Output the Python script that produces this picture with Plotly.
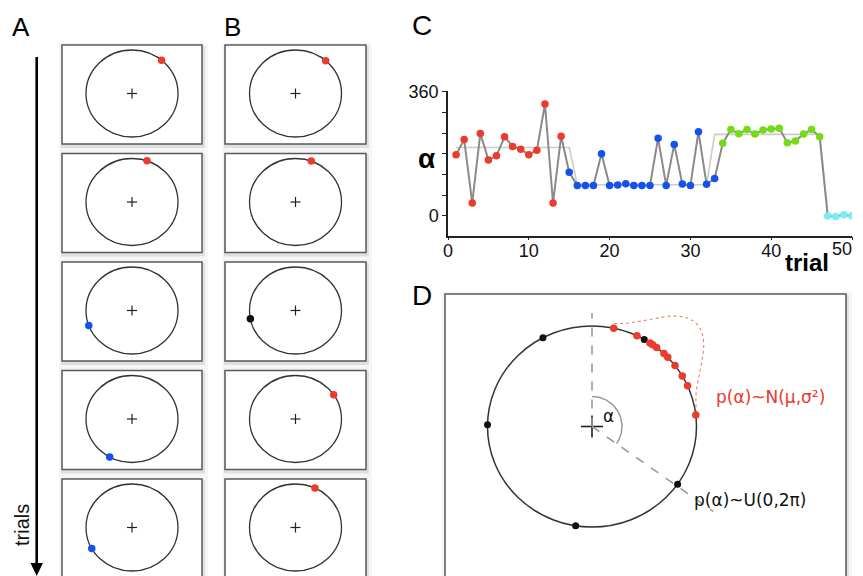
import numpy as np
import plotly.graph_objects as go

W, H = 863, 576
OFF = 8  # page body margin: the figure is drawn 8 px right/down of the window corner

# ---------------- Panel C data ----------------
trials = list(range(1, 51))
alpha_red = [177, 221, 37, 239, 162, 174, 229, 201, 193, 177, 190, 324, 37, 231]
alpha_blue = [126, 88, 88, 88, 180, 88, 89, 93, 88, 88, 88, 225, 88, 207, 92, 88, 244, 91, 108]
alpha_green = [210, 250, 238, 250, 237, 249, 252, 254, 212, 217, 237, 250, 229]
alpha_cyan = [-1, -2, 3, 0]
mean_x = [1, 15, 16, 32, 33, 46, 47, 50]
mean_y = [198, 198, 90, 90, 236, 236, 0, 0]
x_ticks = [0, 10, 20, 30, 40, 50]
x_ticktext = ["0", "10", "20", "30", "40", ""]
x_last_label = "50"
y_ticks = [0, 60, 120, 180, 240, 300, 360]
y_ticktext = ["0", "", "", "", "", "", "360"]

# ---------------- Panels A / B data (angle clockwise from top, degrees) ----------------
angles_A = [40, 19, 250, 209, 241]
colors_A = ["red", "red", "blue", "blue", "blue"]
angles_B = [41, 20, 259, 56, 25]
colors_B = ["red", "red", "black", "red", "red"]

# ---------------- Panel D data ----------------
angles_D_uniform = [332, 271, 189, 125, 30]
angles_D_normal = [12, 25.5, 33.7, 35.5, 38.2, 43.5, 46.5, 52.6, 59.8, 66.1, 83.5]
density_mu, density_sigma, density_amp = 45, 13, 0.41
alpha_angle_D = 125

COL = {"red": "#ec3a2d", "blue": "#1452f0", "green": "#74dc12", "cyan": "#78ecf8", "black": "#111111"}

fig = go.Figure()

# ----- Panel C traces -----
all_alpha = alpha_red + alpha_blue + alpha_green + alpha_cyan
fig.add_trace(go.Scatter(x=mean_x, y=mean_y, mode="lines",
                         line=dict(color="#cccccc", width=1.6), hoverinfo="skip", showlegend=False))
fig.add_trace(go.Scatter(x=trials, y=all_alpha, mode="lines",
                         line=dict(color="#8a8a8a", width=2), hoverinfo="skip", showlegend=False))
start = 1
for vals, c in [(alpha_red, "red"), (alpha_blue, "blue"), (alpha_green, "green"), (alpha_cyan, "cyan")]:
    xs = list(range(start, start + len(vals)))
    fig.add_trace(go.Scatter(x=xs, y=vals, mode="markers",
                             marker=dict(color=COL[c], size=7.5, line=dict(width=0)),
                             showlegend=False))
    start += len(vals)

shapes = []
annotations = []

def frame(x0, y0, x1, y1):
    shapes.append(dict(type="rect", xref="x2", yref="y2", x0=x0 - 3, y0=y0 - 2, x1=x1 + 6, y1=y1 + 8,
                       fillcolor="rgba(0,0,0,0.035)", line=dict(width=0), layer="below"))
    shapes.append(dict(type="rect", xref="x2", yref="y2", x0=x0 - 1, y0=y0 + 1, x1=x1 + 3, y1=y1 + 4,
                       fillcolor="rgba(0,0,0,0.09)", line=dict(width=0), layer="below"))
    shapes.append(dict(type="rect", xref="x2", yref="y2", x0=x0, y0=y0, x1=x1, y1=y1,
                       fillcolor="white", line=dict(color="#5a5a5a", width=1.5), layer="below"))

def ellipse(cx, cy, rx, ry, width=1.3):
    shapes.append(dict(type="circle", xref="x2", yref="y2", x0=cx - rx, y0=cy - ry, x1=cx + rx, y1=cy + ry,
                       line=dict(color="#333333", width=width), layer="below"))

def cross(cx, cy, h, width=1.2):
    shapes.append(dict(type="line", xref="x2", yref="y2", x0=cx - h, y0=cy, x1=cx + h, y1=cy,
                       line=dict(color="#222222", width=width), layer="below"))
    shapes.append(dict(type="line", xref="x2", yref="y2", x0=cx, y0=cy - h, x1=cx, y1=cy + h,
                       line=dict(color="#222222", width=width), layer="below"))

def on_ellipse(cx, cy, rx, ry, ang, scale=1.0):
    a = np.radians(np.asarray(ang, dtype=float))
    s = np.asarray(scale, dtype=float)
    return cx + rx * s * np.sin(a), cy - ry * s * np.cos(a)

# ----- Panels A and B -----
tops = [45, 153.5, 262, 370.5, 479]
fh = 99
rx_s, ry_s = 46, 43.5
for col_x0, col_x1, angs, cols in [(62, 202, angles_A, colors_A), (225, 366, angles_B, colors_B)]:
    cx = (col_x0 + col_x1) / 2
    dx, dy, dc = [], [], []
    for t, a, c in zip(tops, angs, cols):
        frame(col_x0, t, col_x1, t + fh)
        cy = t + 48.5
        ellipse(cx, cy, rx_s, ry_s)
        cross(cx, cy, 5)
        px, py = on_ellipse(cx, cy, rx_s, ry_s, a)
        dx.append(float(px)); dy.append(float(py)); dc.append(COL[c])
    fig.add_trace(go.Scatter(x=dx, y=dy, xaxis="x2", yaxis="y2", mode="markers",
                             marker=dict(color=dc, size=7.5, line=dict(width=0)),
                             hoverinfo="skip", showlegend=False))

# arrow "trials"
shapes.append(dict(type="line", xref="x2", yref="y2", x0=36.7, y0=57, x1=36.7, y1=566,
                   line=dict(color="black", width=2.6)))
shapes.append(dict(type="path", xref="x2", yref="y2", path="M 30.5 563 L 42.9 563 L 36.7 576 Z",
                   fillcolor="black", line=dict(width=0)))
annotations.append(dict(x=22, y=525, xref="x2", yref="y2", text="trials", showarrow=False, textangle=-90,
                        font=dict(family="Liberation Sans, Arial", size=20, color="#111")))

# ----- Panel D -----
frame(445, 294, 846, 600)
cxD, cyD, rxD, ryD = 592, 426.5, 104.5, 100.5
ellipse(cxD, cyD, rxD, ryD, width=1.5)
cross(cxD, cyD, 11, width=1.6)
shapes.append(dict(type="line", xref="x2", yref="y2", x0=cxD, y0=cyD, x1=cxD, y1=313,
                   line=dict(color="#9a9a9a", width=1.6, dash="dash"), layer="below"))
ex, ey = on_ellipse(cxD, cyD, 148, 148, alpha_angle_D)
shapes.append(dict(type="line", xref="x2", yref="y2", x0=cxD, y0=cyD, x1=float(ex), y1=float(ey),
                   line=dict(color="#9a9a9a", width=1.6, dash="dash"), layer="below"))
arc_t = np.linspace(0, alpha_angle_D, 60)
ax_, ay_ = on_ellipse(cxD, cyD, 30, 30, arc_t)
fig.add_trace(go.Scatter(x=ax_, y=ay_, xaxis="x2", yaxis="y2", mode="lines",
                         line=dict(color="#9a9a9a", width=1.5), hoverinfo="skip", showlegend=False))
# density curve
th = np.linspace(12, 84, 200)
r = 1 + density_amp * np.exp(-(th - density_mu) ** 2 / (2 * density_sigma ** 2))
qx, qy = on_ellipse(cxD, cyD, rxD, ryD, th, r)
fig.add_trace(go.Scatter(x=qx, y=qy - 3, xaxis="x2", yaxis="y2", mode="lines",
                         line=dict(color="#f07a70", width=1.1, dash="dot"), hoverinfo="skip", showlegend=False))
ux, uy = on_ellipse(cxD, cyD, rxD, ryD, angles_D_uniform)
fig.add_trace(go.Scatter(x=ux, y=uy, xaxis="x2", yaxis="y2", mode="markers",
                         marker=dict(color="#111111", size=7), hoverinfo="skip", showlegend=False))
nx, ny = on_ellipse(cxD, cyD, rxD, ryD, angles_D_normal)
fig.add_trace(go.Scatter(x=nx, y=ny, xaxis="x2", yaxis="y2", mode="markers",
                         marker=dict(color=COL["red"], size=7.5), hoverinfo="skip", showlegend=False))
annotations.append(dict(x=608, y=416, xref="x2", yref="y2", text="α", showarrow=False,
                        font=dict(family="DejaVu Sans", size=17, color="#111")))
annotations.append(dict(x=770, y=397, xref="x2", yref="y2", text="p(α)~N(μ,σ²)", showarrow=False,
                        font=dict(family="DejaVu Sans", size=17, color="#e8392a")))
annotations.append(dict(x=750, y=500, xref="x2", yref="y2", text="p(α)~U(0,2π)", showarrow=False,
                        font=dict(family="DejaVu Sans", size=17, color="#111")))

# Panel labels
for lab, x, y, s in [("A", 21, 27, 26), ("B", 232, 27, 26), ("C", 422, 25, 28), ("D", 422, 295, 28)]:
    annotations.append(dict(x=x, y=y, xref="x2", yref="y2", text=lab, showarrow=False,
                            font=dict(family="Liberation Sans, Arial", size=s, color="black")))

axis_font = dict(family="Liberation Sans, Arial", size=18, color="#111")

# Panel C labels
annotations.append(dict(x=426, y=158, xref="x2", yref="y2", text="<b>α</b>", showarrow=False,
                        font=dict(family="Liberation Sans, Arial", size=28, color="black")))
annotations.append(dict(x=807, y=262, xref="x2", yref="y2", text="<b>trial</b>", showarrow=False,
                        font=dict(family="Liberation Sans, Arial", size=24, color="black")))
# last x tick label, nudged left so it stays inside the visible page
annotations.append(dict(x=x_ticks[-1], y=1, xref="x", yref="paper", text=x_last_label, showarrow=False,
                        xanchor="right", xshift=2, yanchor="middle",
                        font=axis_font))

cx0, cx1 = 448 - OFF, 852 - OFF       # panel C axes, in figure pixels
cy_top, cy_bot = 91 - OFF, 235.7 - OFF
# position of the "50" label in paper units (same baseline as the other tick labels)
annotations[-1]["y"] = (H - (249 - OFF)) / H

fig.update_layout(
    width=W, height=H, autosize=False,
    margin=dict(l=0, r=0, t=0, b=0, pad=0, autoexpand=False),
    paper_bgcolor="white", plot_bgcolor="rgba(0,0,0,0)",
    showlegend=False,
    xaxis=dict(domain=[cx0 / W, cx1 / W], range=[0, 50], anchor="y",
               showline=True, linecolor="#222", linewidth=1.5, ticks="outside", ticklen=3,
               tickcolor="#222", tickvals=x_ticks, ticktext=x_ticktext, tickfont=axis_font,
               ticklabelstandoff=-5, showgrid=False, zeroline=False, fixedrange=True),
    yaxis=dict(domain=[(H - cy_bot) / H, (H - cy_top) / H], range=[-58, 362], anchor="x",
               showline=True, linecolor="#222", linewidth=1.5, ticks="outside", ticklen=4,
               tickcolor="#222", tickvals=y_ticks, ticktext=y_ticktext, tickfont=axis_font,
               showgrid=False, zeroline=False, fixedrange=True),
    xaxis2=dict(domain=[0, 1], range=[OFF, W + OFF], anchor="y2", visible=False, fixedrange=True),
    yaxis2=dict(domain=[0, 1], range=[H + OFF, OFF], anchor="x2", visible=False, fixedrange=True),
    shapes=shapes, annotations=annotations,
)

fig.write_html("out.html", config={"displayModeBar": False})
